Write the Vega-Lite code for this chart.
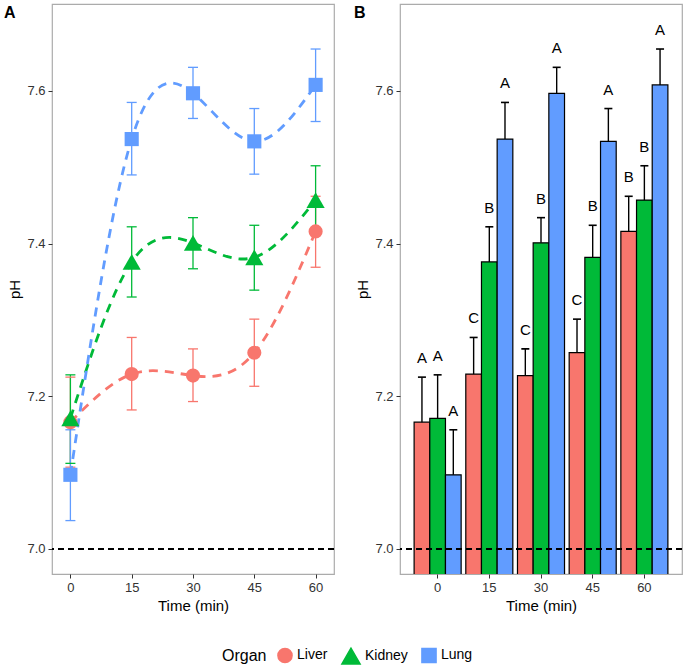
{
  "$schema": "https://vega.github.io/schema/vega-lite/v6.json",
  "background": "white",
  "padding": {"left": 3, "top": 3, "right": 3, "bottom": 2},
  "spacing": 17,
  "datasets": {
    "ph": [
      {"time": 0, "organ": "Liver", "mean": 7.166, "lower": 7.107, "upper": 7.225, "letter": "A"},
      {"time": 15, "organ": "Liver", "mean": 7.229, "lower": 7.182, "upper": 7.277, "letter": "C"},
      {"time": 30, "organ": "Liver", "mean": 7.227, "lower": 7.193, "upper": 7.262, "letter": "C"},
      {"time": 45, "organ": "Liver", "mean": 7.257, "lower": 7.213, "upper": 7.301, "letter": "C"},
      {"time": 60, "organ": "Liver", "mean": 7.416, "lower": 7.369, "upper": 7.462, "letter": "B"},
      {"time": 0, "organ": "Kidney", "mean": 7.171, "lower": 7.112, "upper": 7.228, "letter": "A"},
      {"time": 15, "organ": "Kidney", "mean": 7.376, "lower": 7.330, "upper": 7.422, "letter": "B"},
      {"time": 30, "organ": "Kidney", "mean": 7.401, "lower": 7.367, "upper": 7.434, "letter": "B"},
      {"time": 45, "organ": "Kidney", "mean": 7.382, "lower": 7.339, "upper": 7.424, "letter": "B"},
      {"time": 60, "organ": "Kidney", "mean": 7.457, "lower": 7.412, "upper": 7.502, "letter": "B"},
      {"time": 0, "organ": "Lung", "mean": 7.097, "lower": 7.037, "upper": 7.156, "letter": "A"},
      {"time": 15, "organ": "Lung", "mean": 7.537, "lower": 7.490, "upper": 7.585, "letter": "A"},
      {"time": 30, "organ": "Lung", "mean": 7.597, "lower": 7.564, "upper": 7.631, "letter": "A"},
      {"time": 45, "organ": "Lung", "mean": 7.534, "lower": 7.491, "upper": 7.577, "letter": "A"},
      {"time": 60, "organ": "Lung", "mean": 7.608, "lower": 7.560, "upper": 7.655, "letter": "A"}
    ]
  },
  "data": {"name": "ph"},
  "resolve": {"scale": {"color": "shared", "shape": "shared"}},
  "hconcat": [
    {
      "width": 282,
      "height": 570,
      "title": {"text": "A", "anchor": "start", "frame": "bounds", "offset": -17, "dx": -4, "fontSize": 16, "fontWeight": "bold", "font": "Liberation Sans", "color": "black"},
      "layer": [
        {
          "mark": {"type": "rule", "strokeWidth": 1.3},
          "encoding": {
            "x": {"field": "time", "type": "quantitative", "title": "Time (min)",
                  "scale": {"domain": [-4.5, 64.5], "nice": false, "zero": false},
                  "axis": {"values": [0, 15, 30, 45, 60]}},
            "y": {"field": "lower", "type": "quantitative", "title": "pH",
                  "scale": {"domain": [6.967, 7.714], "nice": false, "zero": false},
                  "axis": {"values": [7.0, 7.2, 7.4, 7.6], "format": ".1f"}},
            "y2": {"field": "upper"},
            "color": {"field": "organ", "type": "nominal", "title": "Organ",
                      "scale": {"domain": ["Liver", "Kidney", "Lung"], "range": ["#F8766D", "#00BA38", "#619CFF"]}}
          }
        },
        {
          "mark": {"type": "tick", "orient": "horizontal", "size": 10, "thickness": 1.3, "opacity": 1},
          "encoding": {
            "x": {"field": "time", "type": "quantitative"},
            "y": {"field": "upper", "type": "quantitative"},
            "color": {"field": "organ", "type": "nominal", "title": "Organ"}
          }
        },
        {
          "mark": {"type": "tick", "orient": "horizontal", "size": 10, "thickness": 1.3, "opacity": 1},
          "encoding": {
            "x": {"field": "time", "type": "quantitative"},
            "y": {"field": "lower", "type": "quantitative"},
            "color": {"field": "organ", "type": "nominal", "title": "Organ"}
          }
        },
        {
          "mark": {"type": "line", "interpolate": "natural", "strokeDash": [9, 7], "strokeWidth": 2.8},
          "encoding": {
            "x": {"field": "time", "type": "quantitative"},
            "y": {"field": "mean", "type": "quantitative"},
            "color": {"field": "organ", "type": "nominal", "title": "Organ"}
          }
        },
        {
          "mark": {"type": "point", "filled": true, "opacity": 1},
          "encoding": {
            "x": {"field": "time", "type": "quantitative"},
            "y": {"field": "mean", "type": "quantitative"},
            "size": {"field": "organ", "type": "nominal", "legend": null,
                     "scale": {"type": "ordinal", "domain": ["Liver", "Kidney", "Lung"], "range": [200, 330, 200]}},
            "color": {"field": "organ", "type": "nominal", "title": "Organ",
                      "legend": {"orient": "none", "legendX": 170, "legendY": 642, "direction": "horizontal", "titleOrient": "left"}},
            "shape": {"field": "organ", "type": "nominal", "title": "Organ",
                      "scale": {"domain": ["Liver", "Kidney", "Lung"], "range": ["circle", "triangle-up", "square"]},
                      "legend": {"orient": "none", "legendX": 170, "legendY": 642, "direction": "horizontal", "titleOrient": "left"}}
          }
        },
        {
          "mark": {"type": "rule", "color": "black", "strokeDash": [6, 4], "strokeWidth": 1.2},
          "encoding": {"y": {"datum": 7.0, "type": "quantitative"}}
        }
      ]
    },
    {
      "width": 282,
      "height": 570,
      "title": {"text": "B", "anchor": "start", "frame": "bounds", "offset": -17, "dx": -2, "fontSize": 16, "fontWeight": "bold", "font": "Liberation Sans", "color": "black"},
      "layer": [
        {
          "mark": {"type": "bar", "stroke": "black", "strokeWidth": 1.2, "clip": true},
          "encoding": {
            "x": {"field": "time", "type": "ordinal", "title": "Time (min)",
                  "scale": {"paddingInner": 0.09, "paddingOuter": 0.273},
                  "axis": {"labelAngle": 0}},
            "xOffset": {"field": "organ", "type": "nominal", "sort": ["Liver", "Kidney", "Lung"],
                        "scale": {"paddingInner": 0, "paddingOuter": 0}},
            "y": {"field": "mean", "type": "quantitative", "title": "pH",
                  "scale": {"domain": [6.967, 7.714], "nice": false, "zero": false},
                  "axis": {"values": [7.0, 7.2, 7.4, 7.6], "format": ".1f"}},
            "color": {"field": "organ", "type": "nominal", "title": "Organ"}
          }
        },
        {
          "mark": {"type": "rule", "color": "black", "strokeWidth": 1.4},
          "encoding": {
            "x": {"field": "time", "type": "ordinal"},
            "xOffset": {"field": "organ", "type": "nominal", "sort": ["Liver", "Kidney", "Lung"]},
            "y": {"field": "mean", "type": "quantitative"},
            "y2": {"field": "upper"}
          }
        },
        {
          "mark": {"type": "tick", "orient": "horizontal", "color": "black", "size": 8, "thickness": 1.6, "opacity": 1},
          "encoding": {
            "x": {"field": "time", "type": "ordinal"},
            "xOffset": {"field": "organ", "type": "nominal", "sort": ["Liver", "Kidney", "Lung"]},
            "y": {"field": "upper", "type": "quantitative"}
          }
        },
        {
          "mark": {"type": "text", "baseline": "bottom", "dy": -11, "fontSize": 15, "font": "Liberation Sans", "color": "black"},
          "encoding": {
            "x": {"field": "time", "type": "ordinal"},
            "xOffset": {"field": "organ", "type": "nominal", "sort": ["Liver", "Kidney", "Lung"]},
            "y": {"field": "upper", "type": "quantitative"},
            "text": {"field": "letter"}
          }
        },
        {
          "mark": {"type": "rule", "color": "black", "strokeDash": [6, 4], "strokeWidth": 1.2},
          "encoding": {"y": {"datum": 7.0, "type": "quantitative"}}
        }
      ]
    }
  ],
  "config": {
    "font": "Liberation Sans",
    "view": {"stroke": "#ababab", "strokeWidth": 1.2},
    "axis": {
      "grid": false,
      "domain": false,
      "tickColor": "#333333",
      "tickSize": 4,
      "labelColor": "#333333",
      "labelFontSize": 13,
      "labelFont": "Liberation Sans",
      "labelPadding": 3,
      "titleFont": "Liberation Sans",
      "titleFontSize": 15,
      "titleFontWeight": "normal",
      "titleColor": "black",
      "titlePadding": 4
    },
    "legend": {
      "titleFontSize": 16,
      "titleFontWeight": "normal",
      "titleFont": "Liberation Sans",
      "titleColor": "black",
      "labelFontSize": 14,
      "labelFont": "Liberation Sans",
      "labelColor": "black",
      "symbolSize": 260,
      "symbolOpacity": 1,
      "columnPadding": 10,
      "titlePadding": 10
    }
  }
}
